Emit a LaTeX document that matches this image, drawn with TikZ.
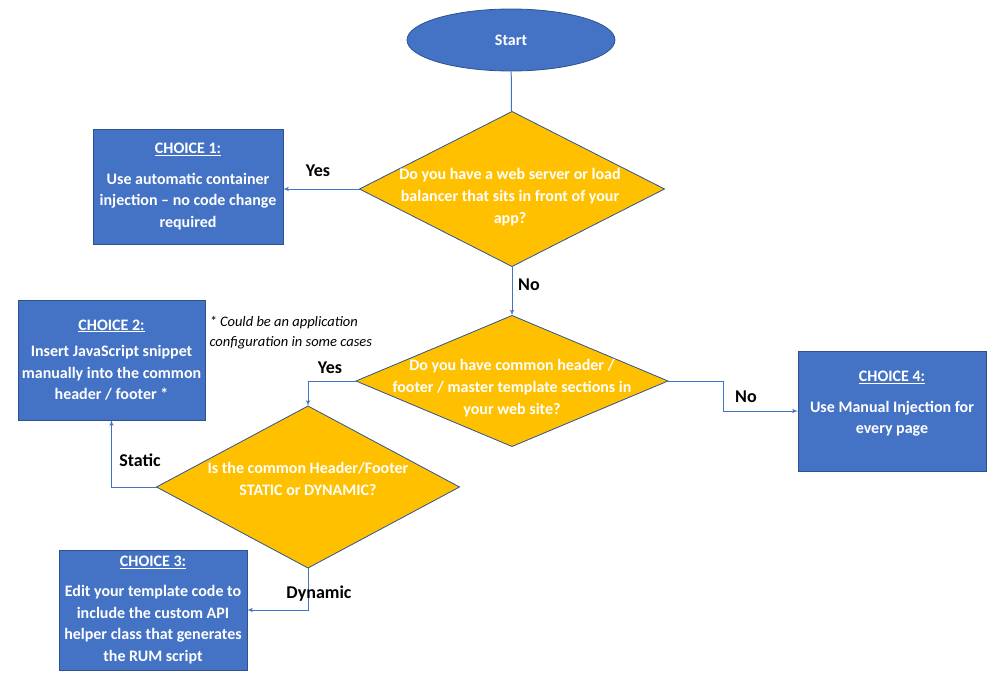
\documentclass[tikz,border=0pt]{standalone}
\usepackage{fontspec}
\setmainfont{Carlito}
\usetikzlibrary{arrows,shapes.geometric}
\definecolor{boxblue}{HTML}{4472C4}
\definecolor{edgeblue}{HTML}{2F528F}
\definecolor{gold}{HTML}{FFC000}
\tikzstyle{choice}=[rectangle,draw=edgeblue,fill=boxblue,text=white,font=\bfseries\fontsize{16}{21.5}\selectfont,align=center,inner sep=0pt,outer sep=0pt,line width=0.8pt]
\tikzstyle{decision}=[diamond,draw=edgeblue,fill=gold,inner sep=0pt,outer sep=0pt,line width=0.8pt]
\tikzstyle{question}=[text=white,font=\bfseries\fontsize{16}{22}\selectfont,align=center]
\tikzstyle{answer}=[font=\bfseries\fontsize{18}{20}\selectfont]
\tikzstyle{line} = [draw=boxblue, line width=1pt, -{latex'[scale=1.3]}]

\begin{document}
\begin{tikzpicture}[x=1pt,y=-1pt]
  \useasboundingbox (0,0) rectangle (992,677);
  \node[ellipse,draw=edgeblue,fill=boxblue,text=white,font=\bfseries\fontsize{16}{18}\selectfont,minimum width=208pt,minimum height=62pt,inner sep=0pt,line width=0.8pt] (start) at (511,40) {Start};

  % decisions
  \node[decision,minimum width=305pt,minimum height=155pt] (d1) at (512,189) {};
  \node[question] (q1) at (510,197) {Do you have a web server or load\\balancer that sits in front of your\\app?};
  \node[decision,minimum width=312pt,minimum height=131pt] (d2) at (512,381) {};
  \node[question] (q2) at (512,388) {Do you have common header /\\footer / master template sections in\\your web site?};
  \node[decision,minimum width=303pt,minimum height=162pt] (d3) at (308,487) {};
  \node[question] (q3) at (308,479) {Is the common Header/Footer\\STATIC or DYNAMIC?};

  % choices
  \node[choice,minimum width=190pt,minimum height=115pt] (c1) at (188,186.5) {\underline{CHOICE 1:}\\[9pt]Use automatic container\\injection -- no code change\\required};
  \node[choice,minimum width=187pt,minimum height=120pt] (c2) at (111.5,360) {\underline{CHOICE 2:}\\[5pt]Insert JavaScript snippet\\manually into the common\\header / footer *};
  \node[choice,minimum width=188pt,minimum height=120pt] (c3) at (153,610) {\underline{CHOICE 3:}\\[9pt]Edit your template code to\\include the custom API\\helper class that generates\\the RUM script};
  \node[choice,minimum width=188pt,minimum height=120pt] (c4) at (892,411) {\underline{CHOICE 4:}\\[9pt]Use Manual Injection for\\every page\\[-4pt]};
  \node[anchor=west,align=left,font=\itshape\fontsize{14.5}{20}\selectfont] (note) at (206,333) {* Could be an application\\configuration in some cases};

  % connectors
  \coordinate (nobend) at (723,381);
  \draw[draw=boxblue,line width=1pt] (start) -- (d1);
  \path[line] (d1.west) -- (d1.west -| c1.east);
  \path[line] (d1.south) -- (d2.north);
  \path[line] (d2.west) -| (d3.north);
  \path[line] (d2.east) -- (nobend) |- (c4.west);
  \path[line] (d3.west) -| (c2.south);
  \path[line] (d3.south) |- (c3.east);

  % answers
  \node[answer] (yes1) at (318,171) {Yes};
  \node[answer] (no1) at (529,285) {No};
  \node[answer] (yes2) at (330,368) {Yes};
  \node[answer] (no2) at (746,397) {No};
  \node[answer] (static) at (140,460) {Static};
  \node[answer] (dynamic) at (319,594) {Dynamic};
\end{tikzpicture}
\end{document}
